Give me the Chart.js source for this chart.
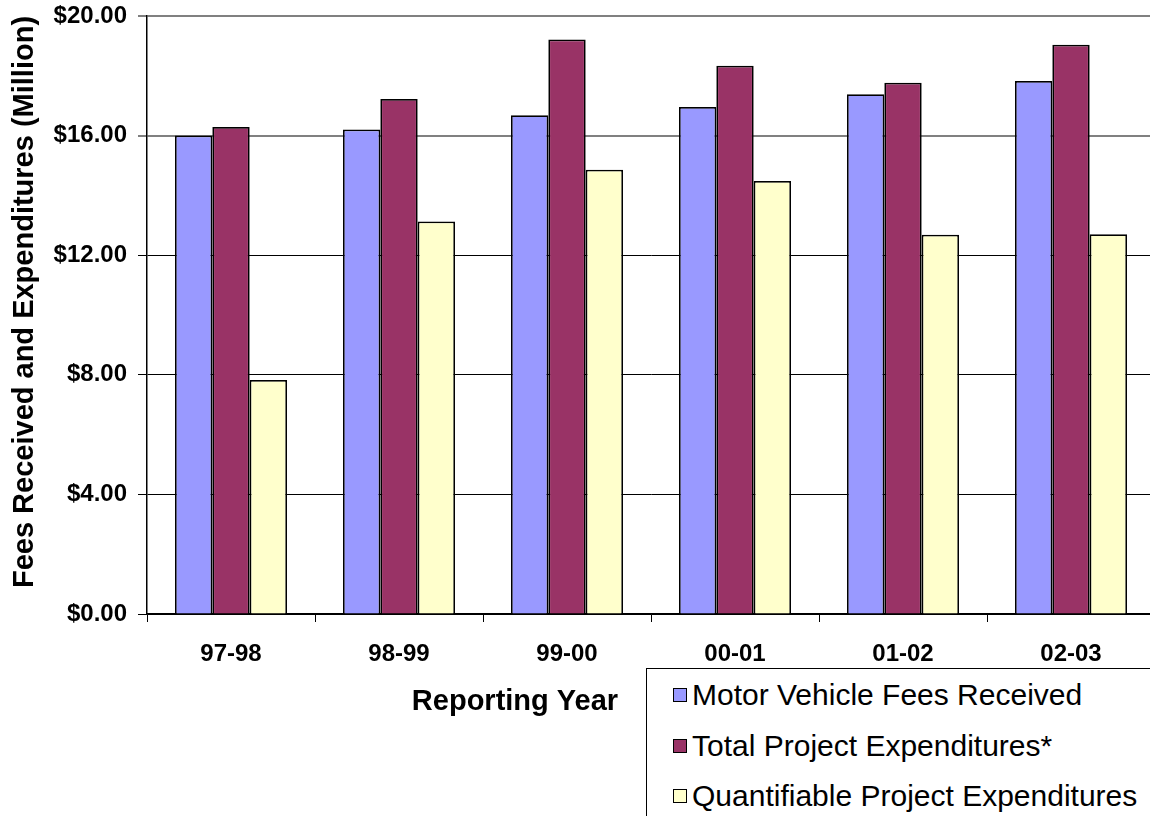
<!DOCTYPE html>
<html>
<head>
<meta charset="utf-8">
<script src="https://cdn.jsdelivr.net/npm/chart.js@4"></script>
<style>
  html, body { margin: 0; padding: 0; background: #fff; overflow: hidden; width: 1150px; height: 816px; }
  #wrap { position: relative; width: 1160px; height: 816px; }
  #legend { position: absolute; left: 646px; top: 668px; width: 520px; height: 170px;
            border: 1.5px solid #000; background: #fff; box-sizing: border-box;
            font-family: "Liberation Sans", Arial, sans-serif; font-size: 30px; color: #000; }
  .item { position: absolute; left: 26px; height: 34px; line-height: 34px; white-space: nowrap; }
  .sw { position: absolute; left: 0; top: 10px; width: 12px; height: 12px; border: 1.5px solid #000; }
  .lbl { position: absolute; left: 19px; top: 0; }
</style>
</head>
<body>
<div id="wrap">
  <canvas id="c" width="1160" height="816"></canvas>
  <div id="legend"></div>
</div>
<script>
const categories = ['97-98', '98-99', '99-00', '00-01', '01-02', '02-03'];
const seriesNames = ['Motor Vehicle Fees Received', 'Total Project Expenditures*', 'Quantifiable Project Expenditures'];
const motorVehicleFees = [16.00, 16.20, 16.68, 16.96, 17.38, 17.83];
const totalExpenditures = [16.29, 17.22, 19.21, 18.34, 17.77, 19.04];
const quantifiableExpenditures = [7.83, 13.13, 14.86, 14.48, 12.68, 12.70];
const yTickLabels = ['$0.00', '$4.00', '$8.00', '$12.00', '$16.00', '$20.00'];
const seriesColors = ['#9999FF', '#993366', '#FFFFCC'];
const xTitle = 'Reporting Year';
const yTitle = 'Fees Received and Expenditures (Million)';

const FONT = '"Liberation Sans", Arial, sans-serif';

const axisTitlePlugin = {
  id: 'axisTitles',
  afterDraw(chart) {
    const ctx = chart.ctx;
    ctx.save();
    ctx.font = 'bold 29px ' + FONT;
    ctx.fillStyle = '#000';
    ctx.textAlign = 'center';
    ctx.textBaseline = 'alphabetic';
    ctx.fillText(xTitle, 515, 710);
    ctx.translate(33, 302);
    ctx.rotate(-Math.PI / 2);
    ctx.fillText(yTitle, 0, 0);
    ctx.restore();
  }
};

const seriesData = [motorVehicleFees, totalExpenditures, quantifiableExpenditures];

new Chart(document.getElementById('c'), {
  type: 'bar',
  data: {
    labels: categories,
    datasets: seriesNames.map((name, i) => ({
      label: name,
      data: seriesData[i],
      backgroundColor: seriesColors[i],
      borderColor: '#000',
      borderWidth: 1.75,
      categoryPercentage: 0.667,
      barPercentage: 1.0
    }))
  },
  options: {
    responsive: false,
    devicePixelRatio: 1,
    animation: false,
    layout: { padding: { top: 16, right: 5, left: 0, bottom: 0 } },
    plugins: {
      legend: { display: false },
      tooltip: { enabled: false }
    },
    scales: {
      x: {
        afterFit(s) { s.height = 202; s.paddingLeft = 0; s.paddingRight = 0; },
        grid: { display: true, drawOnChartArea: false, drawTicks: true, tickLength: 8, color: '#000', offset: true },
        border: { color: '#000', width: 1.5 },
        ticks: { font: { family: FONT, size: 24, weight: 'bold' }, color: '#000', padding: 18, maxRotation: 0 }
      },
      y: {
        min: 0, max: 20,
        afterFit(s) { s.width = 147; s.paddingTop = 0; s.paddingBottom = 0; },
        ticks: {
          stepSize: 4,
          font: { family: FONT, size: 24, weight: 'bold' },
          color: '#000',
          padding: 11,
          callback: (v) => yTickLabels[Math.round(v / 4)]
        },
        grid: {
          color: (ctx) => (ctx.tick && ctx.tick.value >= 16 ? '#808080' : '#000'),
          lineWidth: (ctx) => (ctx.tick && ctx.tick.value >= 16 ? 2 : 1),
          tickColor: '#000',
          tickWidth: 1,
          tickLength: 9
        },
        border: { color: '#000', width: 1.5 },
        title: { display: false, text: yTitle }
      }
    }
  },
  plugins: [axisTitlePlugin]
});

const legendEl = document.getElementById('legend');
const rowTops = [9, 60, 110];
seriesNames.forEach((name, i) => {
  const it = document.createElement('div');
  it.className = 'item';
  it.style.top = rowTops[i] + 'px';
  const sw = document.createElement('span');
  sw.className = 'sw';
  sw.style.background = seriesColors[i];
  const lb = document.createElement('span');
  lb.className = 'lbl';
  lb.textContent = name;
  it.appendChild(sw);
  it.appendChild(lb);
  legendEl.appendChild(it);
});
</script>
</body>
</html>
